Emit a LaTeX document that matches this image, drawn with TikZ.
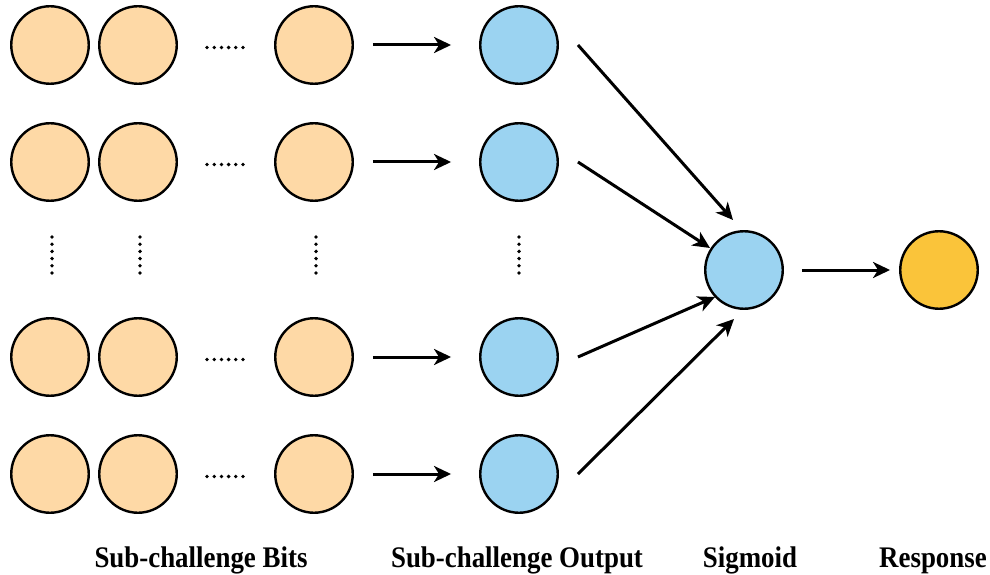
\documentclass[tikz,border=0pt]{standalone}
\usepackage{fontspec}
\setmainfont{Liberation Serif}[FakeStretch=0.9]
\usetikzlibrary{arrows.meta,calc}
\definecolor{bitfill}{RGB}{254,217,166}
\definecolor{outfill}{RGB}{155,211,241}
\definecolor{respfill}{RGB}{250,196,58}
\tikzset{
    unit/.style={circle, draw=black, line width=2.4bp, minimum size=77.5bp, inner sep=0pt},
    bit/.style={unit, fill=bitfill},
    subout/.style={unit, fill=outfill},
    resp/.style={unit, fill=respfill},
    arr/.style={line width=3bp, -{Stealth[length=17bp,width=16bp,inset=5bp]}},
    hdots/.style={line width=3.8bp, line cap=round, dash pattern=on 0bp off 7.2bp},
    vdots/.style={line width=3.8bp, line cap=round, dash pattern=on 0bp off 7.2bp},
    caption/.style={anchor=base, inner sep=0pt, font=\fontsize{30}{30}\selectfont\bfseries}
}

\begin{document}
\begin{tikzpicture}[x=1bp,y=-1bp]
    \useasboundingbox (0,0) rectangle (990,575);

    \node[bit] (c11) at (50, 45) {};
    \node[bit] (c12) at (138, 45) {};
    \node[bit] (c13) at (314, 45) {};
    \node[bit] (c21) at (50, 162) {};
    \node[bit] (c22) at (138, 162) {};
    \node[bit] (c23) at (314, 162) {};
    \node[bit] (c41) at (50, 357) {};
    \node[bit] (c42) at (138, 357) {};
    \node[bit] (c43) at (314, 357) {};
    \node[bit] (c51) at (50, 474) {};
    \node[bit] (c52) at (138, 474) {};
    \node[bit] (c53) at (314, 474) {};

    \node[subout] (b1) at (519, 45) {};
    \node[subout] (b2) at (519, 162) {};
    \node[subout] (b4) at (519, 357) {};
    \node[subout] (b5) at (519, 474) {};

    \node[subout] (sig) at (744, 270) {};
    \node[resp] (res) at (939, 270) {};

    % dots between the bits
    \draw[hdots] (207, 47.5) -- (243.3, 47.5);
    \draw[hdots] (207, 164.5) -- (243.3, 164.5);
    \draw[hdots] (207, 359.5) -- (243.3, 359.5);
    \draw[hdots] (207, 476.5) -- (243.3, 476.5);
    \draw[vdots] (52, 237) -- (52, 273.3);
    \draw[vdots] (140, 237) -- (140, 273.3);
    \draw[vdots] (316, 237) -- (316, 273.3);
    \draw[vdots] (519, 237) -- (519, 273.3);

    \draw[arr]
    (c13) edge[shorten <=19bp, shorten >=28bp] (b1)
    (c23) edge[shorten <=19bp, shorten >=28bp] (b2)
    (c43) edge[shorten <=19bp, shorten >=28bp] (b4)
    (c53) edge[shorten <=19bp, shorten >=28bp] (b5)
    (sig) edge[shorten <=18bp, shorten >=9bp] (res);

    \draw[arr] ([xshift=19bp]b1.east) -- ([shift={(-11,-50)}]sig.center);
    \draw[arr] ([xshift=19bp]b2.east) -- ([shift={(-34,-22)}]sig.center);
    \draw[arr] ([xshift=19bp]b4.east) -- ([shift={(-29,27)}]sig.center);
    \draw[arr] ([xshift=19bp]b5.east) -- ([shift={(-10,49)}]sig.center);

    \node[caption] (lbits) at (201, 567) {Sub-challenge Bits};
    \node[caption] (lout) at (517, 567) {Sub-challenge Output};
    \node[caption] (lsig) at (750, 567) {Sigmoid};
    \node[caption, anchor=base east] (lres) at (987, 567) {Response};
\end{tikzpicture}
\end{document}
